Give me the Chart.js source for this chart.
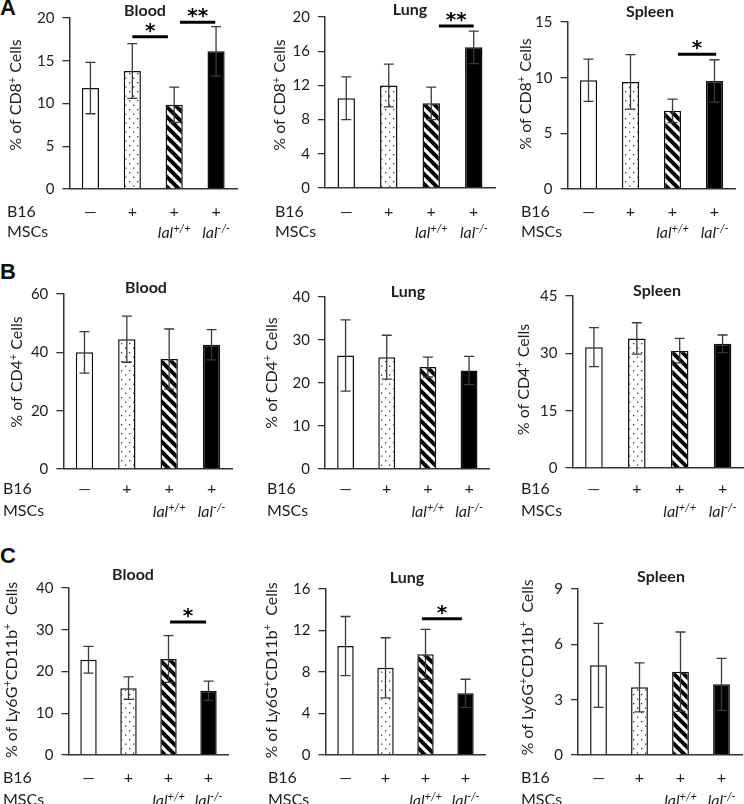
<!DOCTYPE html>
<html><head><meta charset="utf-8">
<script src="https://cdn.jsdelivr.net/npm/chart.js@4.4.1/dist/chart.umd.min.js"></script>
<style>
html,body{margin:0;padding:0;background:#fff;}
#wrap{position:relative;width:744px;height:804px;overflow:hidden;background:#fff;}
#wrap canvas{position:absolute;left:0;top:0;}
.letter{position:absolute;left:0;font:bold 22px "Liberation Sans",Arial,sans-serif;line-height:22px;color:#111;}
</style></head><body>
<div id="wrap">
<div class="letter" style="top:-3px">A</div>
<div class="letter" style="top:261px">B</div>
<div class="letter" style="top:545px">C</div>
</div>
<script>
// ---------------- data ----------------
const groups = ['Control', 'B16', 'B16 + lal+/+ MSCs', 'B16 + lal-/- MSCs'];
const b16Row = ['\u2014', '+', '+', '+'];
const mscRow = ['', '', 'lal^{+/+}', 'lal^{-/-}'];
const organs = ['Blood', 'Lung', 'Spleen'];
const yTitles = ['% of CD8^{+} Cells', '% of CD4^{+} Cells', '% of Ly6G^{+}CD11b^{+}  Cells'];

const cd8Means  = [[11.8, 13.8, 9.85, 16.1], [10.5, 12.0, 9.9, 16.45], [9.77, 9.62, 7.02, 9.71]];
const cd8Errors = [[3.0, 3.2, 2.07, 2.9], [2.5, 2.5, 1.9, 1.9], [1.9, 2.45, 1.05, 1.9]];
const cd4Means  = [[40.0, 44.5, 37.7, 42.6], [26.4, 26.0, 23.7, 22.9], [31.6, 33.9, 30.7, 32.5]];
const cd4Errors = [[7.1, 7.9, 10.3, 5.2], [8.3, 5.1, 2.3, 3.3], [5.1, 4.1, 3.2, 2.3]];
const ly6gMeans  = [[22.8, 16.0, 23.0, 15.4], [10.5, 8.4, 9.7, 5.95], [4.86, 3.67, 4.52, 3.83]];
const ly6gErrors = [[3.2, 2.7, 5.6, 2.3], [2.85, 2.9, 2.4, 1.35], [2.28, 1.33, 2.15, 1.41]];

const yMaxes = [[20, 20, 15], [60, 40, 45], [40, 16, 9]];
const ySteps = [[5, 4, 5], [20, 10, 15], [10, 4, 3]];

// significance: [fromCategory, toCategory, yValue, label]
const sigCD8  = [[[1.0, 1.85, 17.8, '*'], [2.14, 2.98, 19.5, '**']], [[2.18, 3.0, 18.96, '**']], [[2.13, 3.04, 12.1, '*']]];
const sigCD4  = [[], [], []];
const sigLy6g = [[[2.04, 2.94, 31.84, '*']], [[1.91, 2.91, 13.14, '*']], []];

// ---------------- layout (page pixels) ----------------
// [plotLeft, plotRight, plotTop, plotBottom, titleX, titleY, yTitleX, yTitleY, rowLabelX, row1Y, row2Y]
const layout = [
  [[69.5, 237, 18, 189, 145, 11, 15.5, 95, 7, 212, 232],
   [325, 495, 15, 188, 410, 10, 279.5, 95, 275, 212, 232],
   [567.5, 735.5, 22, 189, 650, 12, 525, 94, 521, 212, 232]],
  [[63.3, 232.7, 294, 469, 146, 288, 16.7, 372, 3, 489, 511],
   [325, 489.6, 297, 469, 408, 292, 271, 373, 267, 489, 511],
   [572.5, 744, 296, 468, 657, 291, 523, 379.5, 521, 489, 511]],
  [[68.5, 228.5, 588, 755, 133, 575, 11, 670, 3, 778, 800],
   [325.5, 485.5, 589, 755, 407, 578, 271, 670.5, 268, 778, 800],
   [578, 742, 589, 755, 661, 577, 527, 667.5, 521, 778, 800]]
];

const meanSets = [cd8Means, cd4Means, ly6gMeans];
const errSets = [cd8Errors, cd4Errors, ly6gErrors];
const sigSets = [sigCD8, sigCD4, sigLy6g];

const FONT = 'Lato, "Open Sans", sans-serif';
const TEXT = '#1e1e1e';
const AXIS = '#333';

// ---------------- patterns ----------------
function dotPattern() {
  const c = document.createElement('canvas'); c.width = 8; c.height = 9;
  const x = c.getContext('2d');
  x.fillStyle = '#fff'; x.fillRect(0, 0, 8, 9);
  x.fillStyle = '#333';
  x.fillRect(1, 1, 1.3, 1.3); x.fillRect(5, 5.5, 1.3, 1.3);
  return x.createPattern(c, 'repeat');
}
function stripePattern() {
  const s = 10;
  const c = document.createElement('canvas'); c.width = s; c.height = s;
  const x = c.getContext('2d');
  x.fillStyle = '#fff'; x.fillRect(0, 0, s, s);
  x.strokeStyle = '#000'; x.lineWidth = 4; x.lineCap = 'square';
  for (let k = -1; k <= 1; k++) {
    x.beginPath(); x.moveTo(k * s - 2, -2); x.lineTo(k * s + s + 2, s + 2); x.stroke();
  }
  return x.createPattern(c, 'repeat');
}

// ---------------- rich text helpers ----------------
function parseRich(s) {
  const parts = []; const re = /\^\{([^}]*)\}/g; let last = 0, m;
  while ((m = re.exec(s))) {
    if (m.index > last) parts.push({ t: s.slice(last, m.index), sup: false });
    parts.push({ t: m[1], sup: true }); last = re.lastIndex;
  }
  if (last < s.length) parts.push({ t: s.slice(last), sup: false });
  return parts;
}
function drawRich(ctx, s, x, baseY, size, style, align) {
  const parts = parseRich(s);
  const sup = Math.round(size * 0.66);
  const f = p => `${style} ${p.sup ? sup : size}px ${FONT}`;
  let w = 0;
  parts.forEach(p => { ctx.font = f(p); p.w = ctx.measureText(p.t).width; w += p.w; });
  let cx = align === 'center' ? x - w / 2 : (align === 'right' ? x - w : x);
  ctx.textAlign = 'left'; ctx.textBaseline = 'alphabetic';
  parts.forEach(p => { ctx.font = f(p); ctx.fillText(p.t, cx, p.sup ? baseY - size * 0.36 : baseY); cx += p.w; });
}

function annotPlugin(r, c) {
  const g = layout[r][c];
  const means = meanSets[r][c], errs = errSets[r][c], sigs = sigSets[r][c];
  return {
    id: 'annot' + r + c,
    afterDatasetsDraw(chart) {
      const ctx = chart.ctx; const ys = chart.scales.y; const xs = chart.scales.x;
      const meta = chart.getDatasetMeta(0);
      ctx.save();
      // error bars
      ctx.strokeStyle = '#3a3a3a'; ctx.lineWidth = 1.3;
      meta.data.forEach((bar, i) => {
        const x = bar.x;
        const t = ys.getPixelForValue(means[i] + errs[i]);
        const b = ys.getPixelForValue(means[i] - errs[i]);
        ctx.beginPath();
        ctx.moveTo(x, t); ctx.lineTo(x, b);
        ctx.moveTo(x - 5, t); ctx.lineTo(x + 5, t);
        ctx.moveTo(x - 5, b); ctx.lineTo(x + 5, b);
        ctx.stroke();
      });
      // significance
      sigs.forEach(([a, bb, v, lab]) => {
        const x1 = xs.getPixelForValue(a), x2 = xs.getPixelForValue(bb), y = ys.getPixelForValue(v);
        ctx.strokeStyle = '#000'; ctx.lineWidth = 3;
        ctx.beginPath(); ctx.moveTo(x1, y); ctx.lineTo(x2, y); ctx.stroke();
        ctx.fillStyle = '#000'; ctx.font = 'bold 20px "DejaVu Sans", sans-serif';
        ctx.textAlign = 'center'; ctx.textBaseline = 'alphabetic';
        const m = ctx.measureText(lab);
        const cy = y - 9;
        ctx.fillText(lab, (x1 + x2) / 2, cy + m.actualBoundingBoxAscent - (m.actualBoundingBoxAscent + m.actualBoundingBoxDescent) / 2);
      });
      ctx.restore();
    },
    afterDraw(chart) {
      const ctx = chart.ctx; const meta = chart.getDatasetMeta(0);
      ctx.save();
      ctx.fillStyle = TEXT;
      // panel title
      ctx.font = `bold 16px ${FONT}`; ctx.textAlign = 'center'; ctx.textBaseline = 'middle';
      ctx.fillText(organs[c], g[4], g[5]);
      // y axis title
      ctx.save(); ctx.translate(g[6], g[7]); ctx.rotate(-Math.PI / 2);
      drawRich(ctx, yTitles[r], 0, 16 * 0.36, 16, '', 'center');
      ctx.restore();
      // category rows
      ctx.font = `16px ${FONT}`; ctx.textAlign = 'left'; ctx.textBaseline = 'middle';
      ctx.fillText('B16', g[8], g[9]);
      ctx.fillText('MSCs', g[8], g[10]);
      meta.data.forEach((bar, i) => {
        ctx.font = `16px ${FONT}`; ctx.textAlign = 'center'; ctx.textBaseline = 'middle';
        ctx.fillText(b16Row[i], bar.x, g[9]);
        if (mscRow[i]) drawRich(ctx, mscRow[i], bar.x, g[10] + 16 * 0.36, 16, 'italic', 'center');
      });
      ctx.restore();
    }
  };
}

const dots = dotPattern(), stripes = stripePattern();
const fills = ['#fff', dots, stripes, '#000'];
const wrap = document.getElementById('wrap');
const YW = 60;

for (let r = 0; r < 3; r++) {
  for (let c = 0; c < 3; c++) {
    const g = layout[r][c];
    const cv = document.createElement('canvas');
    cv.width = 744; cv.height = 804; cv.style.width = '744px'; cv.style.height = '804px';
    wrap.appendChild(cv);
    new Chart(cv, {
      type: 'bar',
      data: {
        labels: groups,
        datasets: [{
          data: meanSets[r][c],
          backgroundColor: fills,
          borderColor: '#111',
          borderWidth: 1.5,
          barPercentage: 0.41,
          categoryPercentage: 1
        }]
      },
      options: {
        responsive: false, animation: false, devicePixelRatio: 1,
        events: [],
        layout: { padding: { left: g[0] - YW, right: 744 - g[1], top: g[2], bottom: 804 - g[3] } },
        plugins: { legend: { display: false }, tooltip: { enabled: false }, title: { display: false } },
        scales: {
          x: {
            type: 'category', offset: true,
            grid: { display: false }, ticks: { display: false },
            border: { display: true, color: AXIS, width: 1.5 },
            afterFit: s => { s.height = 0; }
          },
          y: {
            min: 0, max: yMaxes[r][c],
            ticks: { stepSize: ySteps[r][c], font: { family: FONT, size: 15 }, color: TEXT, padding: 8 },
            grid: { drawOnChartArea: false, drawTicks: true, tickLength: 7, color: AXIS, lineWidth: 1.3 },
            border: { display: true, color: AXIS, width: 1.5 },
            afterFit: s => { s.width = YW; }
          }
        }
      },
      plugins: [annotPlugin(r, c)]
    });
  }
}
</script>
</body></html>
